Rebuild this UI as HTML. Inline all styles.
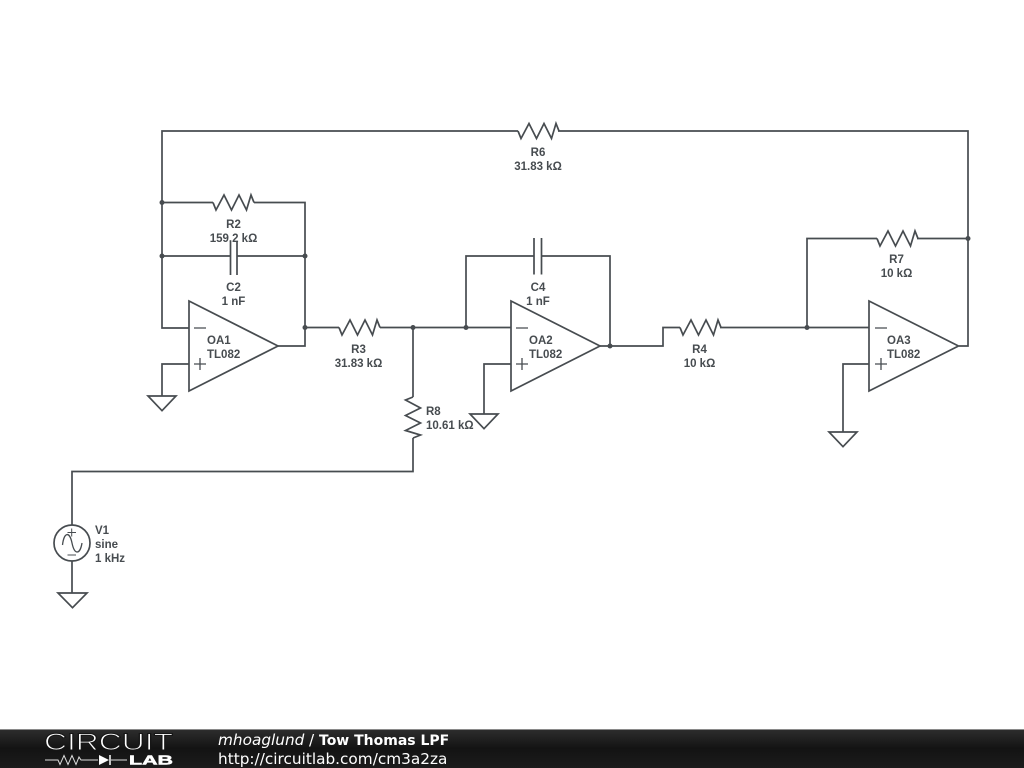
<!DOCTYPE html>
<html><head><meta charset="utf-8"><style>
html,body{margin:0;padding:0;background:#fff;width:1024px;height:768px;overflow:hidden}
svg{display:block}
.w{fill:none;stroke:#474c50;stroke-width:1.7;stroke-linejoin:miter}
.t{font:bold 11.5px "Liberation Sans",sans-serif;fill:#474c50}
.m{text-anchor:middle}
</style></head><body>
<svg width="1024" height="768" viewBox="0 0 1024 768" xmlns="http://www.w3.org/2000/svg">
<defs>
<linearGradient id="f" x1="0" y1="0" x2="0" y2="1"><stop offset="0" stop-color="#2e2e2e"/><stop offset=".5" stop-color="#131313"/><stop offset="1" stop-color="#1c1c1c"/></linearGradient>
</defs>
<g class="w">
<path d="M189 328H162V131H518M558 131H968V346H959"/>
<path d="M162 202.5H213M254 202.5H305V346H278"/>
<path d="M162 256H230.500M237 256H305"/>
<path d="M230.500 241.500V275M237 241.500V275"/>
<path d="M305 327.500H339M380 327.500H511"/>
<path d="M413 327.500V397M413 438V471.500H72V525"/>
<path d="M466 327.500V256H534M541.500 256H610V346M600 346H663V327.500H680M720 327.500H869"/>
<path d="M534 238V274.500M541.500 238V274.500"/>
<path d="M807 327.500V238.500H877M917 238.500H968"/>
<path d="M189 364H162V396M511 364H484V414M869 364H843V432M72 561V593"/>
<path d="M148 396H176L162 410.700ZM470 414H498L484 428.700ZM829 432H857L843 446.700ZM58 593H87L72.500 607.700Z"/>
<path d="M189 301V391L278 346ZM511 301V391L600 346ZM869 301V391L958.500 346Z"/>
<path style="stroke-width:1.300" d="M194 328H206M194 364H206M200 358V370M516 328H528M516 364H528M522 358V370M875 328H887M875 364H887M881 358V370"/>
<path d="M213 202.500L216 210L224 195L231.500 210L239 195L246.500 210L251 195L254 202.500"/>
<path d="M339 327.500L342 335L350 320L357.500 335L365 320L372.500 335L377 320L380 327.500"/>
<path d="M518 131L521 138.500L529 123.500L536.500 138.500L544 123.500L551.500 138.500L556 123.500L559 131"/>
<path d="M680 327.500L683 335L691 320L698.500 335L706 320L713.500 335L718 320L721 327.500"/>
<path d="M877 238.500L880 246L888 231L895.500 246L903 231L910.500 246L915 231L918 238.500"/>
<path d="M413 397L405.500 400L420.500 408L405.500 415.500L420.500 423L405.500 430.500L420.500 435L413 438"/>
<circle cx="72" cy="543" r="18"/>
<path d="M62.500 545C64 532 69.500 531 72 543C74.500 555 80 555 82 543" style="stroke-width:1.300"/>
<path style="stroke-width:1" d="M67.500 532.500H76M71.700 528.500V536.500M67.500 555H76"/>
</g>
<g fill="#474c50">
<circle cx="162" cy="202.500" r="2.500"/><circle cx="162" cy="256" r="2.500"/><circle cx="305" cy="256" r="2.500"/><circle cx="305" cy="327.500" r="2.500"/><circle cx="413" cy="327.500" r="2.500"/><circle cx="466" cy="327.500" r="2.500"/><circle cx="610" cy="346" r="2.500"/><circle cx="807" cy="327.500" r="2.500"/><circle cx="968" cy="238.500" r="2.500"/>
</g>
<g class="t">
<text class="m" x="538" y="156">R6</text><text class="m" x="538" y="170">31.83 kΩ</text>
<text class="m" x="233.500" y="228">R2</text><text class="m" x="233.500" y="242">159.2 kΩ</text>
<text class="m" x="233.500" y="291">C2</text><text class="m" x="233.500" y="305">1 nF</text>
<text class="m" x="358.500" y="353">R3</text><text class="m" x="358.500" y="367">31.83 kΩ</text>
<text class="m" x="538" y="291">C4</text><text class="m" x="538" y="305">1 nF</text>
<text class="m" x="699.500" y="353">R4</text><text class="m" x="699.500" y="367">10 kΩ</text>
<text class="m" x="896.500" y="263">R7</text><text class="m" x="896.500" y="277">10 kΩ</text>
<text x="426" y="415">R8</text><text x="426" y="429">10.61 kΩ</text>
<text x="207" y="344">OA1</text><text x="207" y="358">TL082</text>
<text x="529" y="344">OA2</text><text x="529" y="358">TL082</text>
<text x="887" y="344">OA3</text><text x="887" y="358">TL082</text>
<text x="95" y="534">V1</text><text x="95" y="548">sine</text><text x="95" y="562">1 kHz</text>
</g>
<rect x="0" y="729" width="1024" height="39" fill="url(#f)"/>
<rect x="0" y="729" width="1024" height="1" fill="#8a8a8a"/>
<text x="44" y="750" font-family="Liberation Sans,sans-serif" font-size="24" fill="#fff" stroke="#161616" stroke-width="1" textLength="129" lengthAdjust="spacingAndGlyphs">CIRCUIT</text>
<text x="129" y="764.500" font-family="Liberation Sans,sans-serif" font-size="13" font-weight="bold" fill="#fff" stroke="#fff" stroke-width=".5" textLength="44" lengthAdjust="spacingAndGlyphs">LAB</text>
<path d="M45 760H58L60 764.500L64 755.500L68 764.500L72 755.500L76 764.500L79 757L81 760H98M111 760H127" fill="none" stroke="#ddd" stroke-width="1"/>
<path d="M99 755V765L109 760Z" fill="#fff"/><path d="M110 755V765" stroke="#fff" stroke-width="1.500"/>
<text x="218" y="745" font-family="DejaVu Sans,sans-serif" fill="#fff"><tspan font-style="italic" font-size="15.300">mhoaglund</tspan><tspan font-size="15.300" x="309">/</tspan><tspan font-weight="bold" font-size="14" x="319">Tow Thomas LPF</tspan></text>
<text x="218" y="764" font-family="DejaVu Sans,sans-serif" font-size="15.300" fill="#fff">http://circuitlab.com/cm3a2za</text>
</svg>
</body></html>
